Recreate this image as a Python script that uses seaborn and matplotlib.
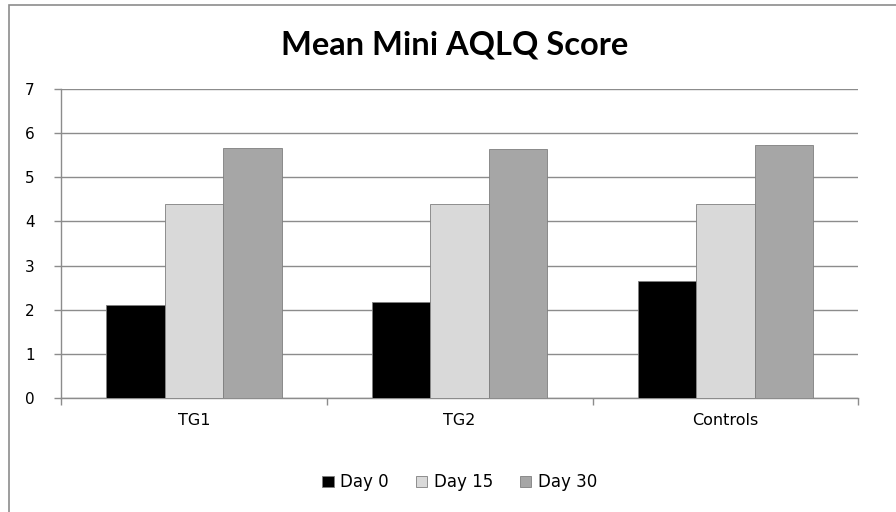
import pandas as pd
import matplotlib.pyplot as plt
import seaborn as sns
from matplotlib.patches import Rectangle

# Chart values
groups = ['TG1', 'TG2', 'Controls']
days = ['Day 0', 'Day 15', 'Day 30']
day0 = [2.10, 2.17, 2.66]
day15 = [4.40, 4.40, 4.40]
day30 = [5.67, 5.64, 5.74]
day_colors = ['#000000', '#d9d9d9', '#a6a6a6']

df = pd.DataFrame({
    'Group': groups * 3,
    'Day': [d for d in days for _ in groups],
    'Score': day0 + day15 + day30,
})

sns.set_style('white')
plt.rcParams['font.family'] = ['DejaVu Sans']
plt.rcParams['text.color'] = 'black'
plt.rcParams['xtick.color'] = 'black'
plt.rcParams['ytick.color'] = 'black'

fig = plt.figure(figsize=(8.96, 5.12), dpi=100)
ax = fig.add_axes([0.068, 0.223, 0.89, 0.603])

sns.barplot(data=df, x='Group', y='Score', hue='Day', hue_order=days,
            palette=day_colors, width=0.66, saturation=1, errorbar=None,
            edgecolor='#7f7f7f', linewidth=0.6, ax=ax, zorder=3)

ax.set_ylim(0, 7)
ax.set_xlim(-0.5, 2.5)
ax.set_yticks(range(0, 8))
ax.yaxis.grid(True, color='#8c8c8c', linewidth=1.0, zorder=0)
ax.set_axisbelow(True)
ax.set_xlabel('')
ax.set_ylabel('')

for side in ['top', 'right']:
    ax.spines[side].set_visible(False)
for side in ['left', 'bottom']:
    ax.spines[side].set_color('#8c8c8c')
    ax.spines[side].set_linewidth(1.0)

ax.tick_params(axis='y', length=5, width=1, color='#8c8c8c', labelcolor='black',
               labelsize=11, pad=14, left=True, direction='out')
ax.tick_params(axis='x', length=0, labelsize=11.5, labelcolor='black', pad=11)
ax.set_xticks([-0.5, 0.5, 1.5, 2.5], minor=True)
ax.tick_params(axis='x', which='minor', length=5, width=1, color='#8c8c8c',
               bottom=True, direction='out')

fig.text(0.507, 0.912, 'Mean Mini AQLQ Score', ha='center', va='center',
         fontsize=23.5, fontweight='bold', color='black',
         family=['Lato', 'DejaVu Sans'])

handles, labels = ax.get_legend_handles_labels()
ax.legend(handles, labels, loc='center', bbox_to_anchor=(0.513, 0.058),
          bbox_transform=fig.transFigure, ncol=3, frameon=False,
          fontsize=12, handlelength=0.7, handleheight=0.7,
          handletextpad=0.4, columnspacing=1.6, labelcolor='black')

# chart border: only the left and top edges fall inside the picture
fig.patches.append(Rectangle((0.010, -0.1), 1.2, 1.09, transform=fig.transFigure,
                             fill=False, edgecolor='#8c8c8c', linewidth=1.2))

fig.savefig('out.png', dpi=100)
